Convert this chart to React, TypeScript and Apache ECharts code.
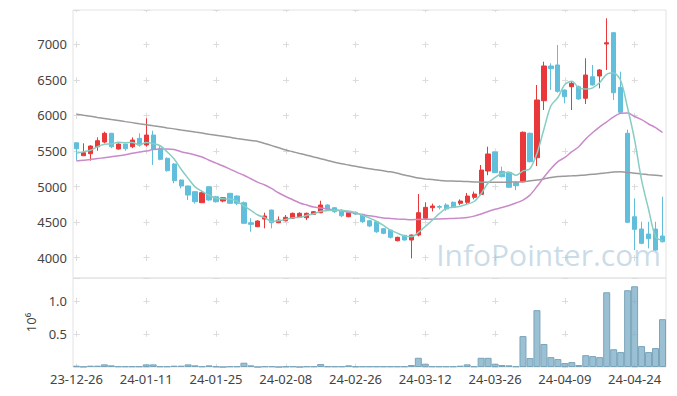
import React, { useEffect, useRef } from "react";
import * as echarts from "echarts";

const dates = [
  "2023-12-26", "2023-12-27", "2023-12-28",
  "2024-01-02", "2024-01-03", "2024-01-04", "2024-01-05", "2024-01-08", "2024-01-09", "2024-01-10", "2024-01-11",
  "2024-01-12", "2024-01-15", "2024-01-16", "2024-01-17", "2024-01-18", "2024-01-19", "2024-01-22", "2024-01-23",
  "2024-01-24", "2024-01-25", "2024-01-26", "2024-01-29", "2024-01-30", "2024-01-31",
  "2024-02-01", "2024-02-02", "2024-02-05", "2024-02-06", "2024-02-07", "2024-02-08", "2024-02-13", "2024-02-14",
  "2024-02-15", "2024-02-16", "2024-02-19", "2024-02-20", "2024-02-21", "2024-02-22", "2024-02-23", "2024-02-26",
  "2024-02-27", "2024-02-28", "2024-02-29",
  "2024-03-04", "2024-03-05", "2024-03-06", "2024-03-07", "2024-03-08", "2024-03-11", "2024-03-12", "2024-03-13",
  "2024-03-14", "2024-03-15", "2024-03-18", "2024-03-19", "2024-03-20", "2024-03-21", "2024-03-22", "2024-03-25",
  "2024-03-26", "2024-03-27", "2024-03-28", "2024-03-29",
  "2024-04-01", "2024-04-02", "2024-04-03", "2024-04-04", "2024-04-05", "2024-04-08", "2024-04-09", "2024-04-11",
  "2024-04-12", "2024-04-15", "2024-04-16", "2024-04-17", "2024-04-18", "2024-04-19", "2024-04-22", "2024-04-23",
  "2024-04-24", "2024-04-25", "2024-04-26", "2024-04-29", "2024-04-30",
];

// [open, close, low, high]
const candles = [
  [5616, 5532, 5364, 5620], [5434, 5476, 5430, 5608], [5462, 5570, 5364, 5580], [5560, 5645, 5504, 5692],
  [5626, 5749, 5608, 5771], [5749, 5560, 5540, 5755], [5528, 5598, 5520, 5605], [5598, 5532, 5504, 5600],
  [5560, 5654, 5540, 5692], [5678, 5584, 5560, 5749], [5584, 5725, 5560, 5960], [5725, 5524, 5303, 5785],
  [5538, 5383, 5370, 5584], [5397, 5223, 5210, 5410], [5317, 5082, 5046, 5330], [5092, 5008, 4975, 5100],
  [5008, 4881, 4811, 5015], [4928, 4787, 4760, 4935], [4773, 4914, 4770, 4942], [4998, 4811, 4800, 5005],
  [4857, 4787, 4775, 4870], [4797, 4843, 4780, 4850], [4905, 4765, 4760, 4910], [4867, 4765, 4740, 4875],
  [4773, 4484, 4480, 4790], [4492, 4469, 4365, 4554], [4436, 4516, 4430, 4525], [4544, 4586, 4413, 4633],
  [4670, 4492, 4413, 4675], [4492, 4530, 4485, 4580], [4520, 4568, 4510, 4600], [4554, 4624, 4545, 4635],
  [4568, 4624, 4560, 4640], [4562, 4624, 4530, 4635], [4610, 4647, 4605, 4655], [4633, 4741, 4625, 4801],
  [4741, 4680, 4670, 4750], [4703, 4647, 4630, 4712], [4670, 4590, 4570, 4680], [4576, 4633, 4570, 4640],
  [4638, 4614, 4600, 4650], [4610, 4506, 4490, 4620], [4520, 4446, 4430, 4530], [4506, 4365, 4350, 4515],
  [4408, 4343, 4330, 4415], [4389, 4287, 4270, 4395], [4239, 4287, 4230, 4295], [4315, 4249, 4240, 4320],
  [4249, 4319, 3991, 4325], [4319, 4633, 4300, 4895], [4554, 4708, 4540, 4779], [4703, 4727, 4650, 4760],
  [4720, 4710, 4680, 4740], [4741, 4685, 4660, 4765], [4779, 4708, 4700, 4790], [4765, 4797, 4740, 4820],
  [4779, 4867, 4740, 4910], [4849, 4895, 4820, 4930], [4891, 5233, 4880, 5303], [5219, 5458, 5160, 5560],
  [5486, 5196, 5190, 5495], [5214, 5139, 5130, 5280], [5200, 4990, 4985, 5210], [5054, 5012, 4950, 5080],
  [5068, 5763, 5060, 5775], [5749, 5350, 5340, 5760], [5406, 6217, 5289, 6428], [6207, 6695, 6076, 6755],
  [6695, 6657, 6357, 6733], [6709, 6339, 6320, 6990], [6357, 6263, 6170, 6365], [6404, 6451, 6076, 6470],
  [6404, 6231, 6220, 6420], [6241, 6568, 6160, 6803], [6544, 6428, 6420, 6709], [6554, 6639, 6381, 6650],
  [7004, 7022, 6639, 7365], [7163, 6319, 6217, 7170], [6395, 6044, 6030, 6615], [5749, 4498, 4490, 5800],
  [4576, 4399, 4108, 4835], [4403, 4202, 4190, 4506], [4333, 4267, 4132, 4506], [4403, 4108, 4100, 4506],
  [4305, 4225, 4215, 4857],
];

const volumes = [
  20000, 5000, 20000, 20000, 40000, 25000, 10000, 10000, 10000, 10000,
  40000, 40000, 10000, 10000, 20000, 20000, 40000, 25000, 10000, 25000,
  10000, 0, 10000, 10000, 65000, 25000, 0, 10000, 10000, 0,
  10000, 10000, 0, 10000, 10000, 45000, 10000, 10000, 10000, 25000,
  10000, 10000, 10000, 10000, 10000, 10000, 10000, 10000, 30000, 140000,
  50000, 10000, 10000, 10000, 10000, 20000, 40000, 10000, 140000, 140000,
  50000, 30000, 25000, 10000, 470000, 136000, 864000, 350000, 150000, 120000,
  60000, 75000, 30000, 180000, 166000, 150000, 1136000, 270000, 227000, 1167000,
  1227000, 318000, 227000, 288000, 727000,
];

const ma5 = [
  5468, 5490, 5510, 5560, 5594, 5600, 5624, 5617, 5619, 5586,
  5619, 5604, 5574, 5488, 5387, 5244, 5115, 4996, 4934, 4880,
  4836, 4828, 4824, 4794, 4729, 4665, 4600, 4564, 4509, 4519,
  4538, 4560, 4568, 4594, 4617, 4652, 4663, 4668, 4661, 4658,
  4633, 4598, 4558, 4513, 4455, 4389, 4346, 4306, 4297, 4355,
  4439, 4527, 4619, 4693, 4708, 4725, 4753, 4790, 4900, 5050,
  5130, 5184, 5203, 5159, 5220, 5251, 5466, 5807, 6136, 6252,
  6434, 6481, 6388, 6370, 6388, 6463, 6578, 6595, 6490, 6104,
  5656, 5092, 4682, 4295, 4240,
];

const ma20 = [
  5359, 5370, 5380, 5395, 5405, 5420, 5432, 5447, 5470, 5485,
  5500, 5520, 5528, 5528, 5520, 5490, 5468, 5444, 5415, 5370,
  5330, 5290, 5245, 5200, 5160, 5110, 5060, 5022, 4970, 4910,
  4860, 4815, 4770, 4741, 4712, 4698, 4685, 4673, 4660, 4638,
  4625, 4605, 4590, 4575, 4560, 4552, 4545, 4540, 4535, 4538,
  4540, 4542, 4545, 4548, 4552, 4558, 4566, 4585, 4615, 4650,
  4680, 4705, 4735, 4770, 4810, 4880, 5000, 5130, 5250, 5350,
  5410, 5490, 5560, 5670, 5760, 5840, 5910, 5980, 6030, 6035,
  5985, 5940, 5880, 5830, 5760,
];

const maLong = [
  6017, 6002, 5988, 5972, 5958, 5943, 5929, 5913, 5899, 5884,
  5870, 5854, 5840, 5825, 5811, 5795, 5781, 5766, 5752, 5736,
  5722, 5707, 5692, 5677, 5663, 5649, 5635, 5605, 5576, 5545,
  5514, 5490, 5465, 5441, 5416, 5392, 5367, 5342, 5321, 5303,
  5285, 5267, 5249, 5235, 5221, 5207, 5186, 5162, 5141, 5120,
  5108, 5098, 5088, 5080, 5078, 5074, 5070, 5066, 5062, 5060,
  5060, 5061, 5062, 5065, 5069, 5081, 5092, 5108, 5127, 5140,
  5146, 5151, 5157, 5163, 5172, 5184, 5194, 5205, 5208, 5199,
  5188, 5177, 5167, 5159, 5149,
];

const watermark = "InfoPointer.com";
const volumeAxisName = "10\u2076";

export default function App() {
  const ref = useRef<HTMLDivElement>(null);

  useEffect(() => {
    if (!ref.current) return;
    const chart = echarts.init(ref.current, null, { renderer: "svg" });
    const font = "Noto Sans";
    const labelColor = "#444";
    const crossColor = "#dcdcdc";
    const every10 = (i: number) => i % 10 === 0;

    chart.setOption({
      animation: false,
      backgroundColor: "#ffffff",
      textStyle: { fontFamily: font },
      grid: [
        { left: 73, right: 11, top: 10, height: 268, show: true, borderColor: "#e2e2e2", borderWidth: 1 },
        { left: 73, right: 11, top: 278, height: 89, show: true, borderColor: "#e2e2e2", borderWidth: 1 },
      ],
      xAxis: [
        {
          type: "category",
          gridIndex: 0,
          data: dates,
          boundaryGap: true,
          axisLine: { show: false },
          axisTick: { show: false },
          axisLabel: { show: false },
          splitLine: {
            show: true,
            interval: every10,
            alignWithLabel: true,
            lineStyle: { color: crossColor, width: 1, type: [6, 29.57], dashOffset: 4.28 },
          },
        },
        {
          type: "category",
          gridIndex: 1,
          data: dates,
          boundaryGap: true,
          axisLine: { show: false },
          axisTick: { show: false },
          axisLabel: {
            interval: every10,
            formatter: (d: string) => d.slice(2),
            color: labelColor,
            fontSize: 13,
            fontFamily: font,
            margin: 5,
          },
          splitLine: {
            show: true,
            interval: every10,
            alignWithLabel: true,
            lineStyle: { color: crossColor, width: 1, type: [6, 26.89], dashOffset: 12.67 },
          },
        },
      ],
      yAxis: [
        {
          type: "value",
          gridIndex: 0,
          min: 3715,
          max: 7482,
          splitNumber: 7,
          axisLine: { show: false },
          axisTick: { show: false },
          axisLabel: {
            color: labelColor,
            fontSize: 13,
            fontFamily: font,
            margin: 6,
            showMinLabel: false,
            showMaxLabel: false,
            formatter: (v: number) => String(v),
          },
          splitLine: {
            show: true,
            lineStyle: { color: crossColor, width: 1, type: [6, 63.76], dashOffset: 69.27 },
          },
        },
        {
          type: "value",
          gridIndex: 1,
          min: 0,
          max: 1353000,
          splitNumber: 3,
          name: volumeAxisName,
          nameLocation: "middle",
          nameRotate: 90,
          nameGap: 36,
          nameTextStyle: { color: labelColor, fontSize: 13, fontFamily: font },
          axisLine: { show: false },
          axisTick: { show: false },
          axisLabel: {
            color: labelColor,
            fontSize: 13,
            fontFamily: font,
            margin: 6,
            showMaxLabel: false,
            formatter: (v: number) => (v === 0 ? "" : (v / 1e6).toFixed(1)),
          },
          splitLine: {
            show: true,
            lineStyle: { color: crossColor, width: 1, type: [6, 63.76], dashOffset: 69.27 },
          },
        },
      ],
      graphic: [
        {
          type: "text",
          right: 16,
          top: 239,
          z: 100,
          style: {
            text: watermark,
            fontSize: 30,
            fontFamily: "Open Sans",
            fill: "rgba(150,186,208,0.5)",
          },
        },
      ],
      series: [
        {
          type: "candlestick",
          xAxisIndex: 0,
          yAxisIndex: 0,
          data: candles,
          barWidth: "68%",
          itemStyle: {
            color: "#e8383a",
            color0: "#62bfdc",
            borderColor: "#e8383a",
            borderColor0: "#62bfdc",
            borderWidth: 1,
          },
        },
        {
          type: "line",
          xAxisIndex: 0,
          yAxisIndex: 0,
          data: maLong,
          smooth: 0.3,
          showSymbol: false,
          lineStyle: { color: "#9a9a9a", width: 1.5 },
        },
        {
          type: "line",
          xAxisIndex: 0,
          yAxisIndex: 0,
          data: ma20,
          smooth: 0.3,
          showSymbol: false,
          lineStyle: { color: "#c98ac9", width: 1.5 },
        },
        {
          type: "line",
          xAxisIndex: 0,
          yAxisIndex: 0,
          data: ma5,
          smooth: 0.3,
          showSymbol: false,
          lineStyle: { color: "#86cdc2", width: 1.5 },
        },
        {
          type: "bar",
          xAxisIndex: 1,
          yAxisIndex: 1,
          data: volumes,
          barWidth: "100%",
          itemStyle: {
            color: "rgba(128,174,198,0.78)",
            borderColor: "#78a4ba",
            borderWidth: 1,
          },
        },
      ],
    });

    return () => chart.dispose();
  }, []);

  return (
    <div
      ref={ref}
      style={{ position: "fixed", left: 0, top: 0, width: 677, height: 396 }}
    />
  );
}
